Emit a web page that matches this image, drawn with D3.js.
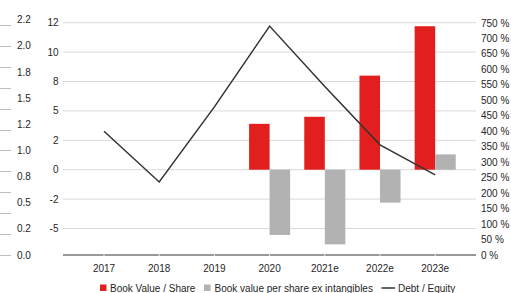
<!DOCTYPE html>
<html><head><meta charset="utf-8">
<script src="https://cdn.jsdelivr.net/npm/d3@7"></script>
<style>body{margin:0;background:#fff}svg{display:block;font-family:"Liberation Sans",Arial,sans-serif}</style>
</head><body><svg id="c" width="511" height="293"></svg>
<script>
const categories = ["2017","2018","2019","2020","2021e","2022e","2023e"];
const bookValue = [null,null,null,3.9,4.5,8.0,12.2];
const bookValueExIntangibles = [null,null,null,-5.55,-6.35,-2.8,1.3];
const debtEquity = [400,236,479,740,545,356,259];
const farLeftTicks = [0,0.2,0.4,0.6,0.8,1.0,1.2,1.4,1.6,1.8,2.0,2.2];
const farLeftLabelValues = [0,0.25,0.5,0.75,1.0,1.25,1.5,1.75,2.0,2.25];
const farLeftLabels = ["0.0","0.2","0.5","0.8","1.0","1.2","1.5","1.8","2.0","2.2"];
const secTickValues = [12.5,10,7.5,5,2.5,0,-2.5,-5];
const secTickLabels = ["12","10","8","5","2","0","-2","-5"];
const rightTicks = d3.range(0,751,50);
const legendItems = ["Book Value / Share","Book value per share ex intangibles","Debt / Equity"];

const svg = d3.select("#c");
const plotL = 63, plotR = 476, axisY = 255;
const x = d3.scaleBand().domain(categories).range([76.4,462.8]).padding(0);
const y1 = d3.scaleLinear().domain([0,2.2]).range([255,25]);
const y2 = d3.scaleLinear().domain([-7.5,12.5]).range([257.9,22.7]);
const y3 = d3.scaleLinear().domain([0,750]).range([255,23]);
const txt = "#262626";

// gridlines
svg.append("g").selectAll("line").data(secTickValues).join("line")
  .attr("x1",plotL).attr("x2",plotR).attr("y1",d=>y2(d)).attr("y2",d=>y2(d))
  .attr("stroke","#d9d9d9").attr("stroke-width",1);

// far-left axis
svg.append("g").selectAll("line").data(farLeftTicks).join("line")
  .attr("x1",0).attr("x2",11).attr("y1",d=>Math.round(y1(d))+0.5).attr("y2",d=>Math.round(y1(d))+0.5)
  .attr("stroke","#bfbfbf");
svg.append("g").selectAll("text").data(farLeftLabelValues).join("text")
  .attr("x",17).attr("y",d=>y1(d)).attr("dy","0.35em").attr("font-size",10).attr("fill",txt)
  .text((d,i)=>farLeftLabels[i]);

// secondary left axis labels
svg.append("g").selectAll("text").data(secTickValues).join("text")
  .attr("x",58.5).attr("y",d=>y2(d)).attr("dy","0.35em").attr("text-anchor","end")
  .attr("font-size",10).attr("fill",txt).text((d,i)=>secTickLabels[i]);

// right axis labels
svg.append("g").selectAll("text").data(rightTicks).join("text")
  .attr("x",481).attr("y",d=>y3(d)).attr("dy","0.35em")
  .attr("font-size",10).attr("fill",txt).text(d=>d+" %");

// bars
const bw = x.bandwidth()*0.372;
const cx = c => x(c)+x.bandwidth()/2;
svg.append("g").selectAll("rect").data(categories.map((c,i)=>({c,v:bookValue[i]})).filter(d=>d.v!=null)).join("rect")
  .attr("x",d=>cx(d.c)-bw).attr("width",bw)
  .attr("y",d=>Math.min(y2(d.v),y2(0))).attr("height",d=>Math.abs(y2(d.v)-y2(0)))
  .attr("fill","#e31e1f");
svg.append("g").selectAll("rect").data(categories.map((c,i)=>({c,v:bookValueExIntangibles[i]})).filter(d=>d.v!=null)).join("rect")
  .attr("x",d=>cx(d.c)).attr("width",bw)
  .attr("y",d=>Math.min(y2(d.v),y2(0))).attr("height",d=>Math.abs(y2(d.v)-y2(0)))
  .attr("fill","#b2b2b2");

// x axis line
svg.append("line").attr("x1",plotL).attr("x2",plotR).attr("y1",axisY).attr("y2",axisY)
  .attr("stroke","#333").attr("stroke-width",1.2);
svg.append("g").selectAll("line").data(categories).join("line")
  .attr("x1",d=>cx(d)).attr("x2",d=>cx(d)).attr("y1",axisY-1).attr("y2",axisY+1)
  .attr("stroke","#fff").attr("stroke-width",0.8);
svg.append("g").selectAll("text").data(categories).join("text")
  .attr("x",d=>cx(d)).attr("y",268).attr("dy","0.35em").attr("text-anchor","middle")
  .attr("font-size",10).attr("fill",txt).text(d=>d);

// line
const line = d3.line().x((d,i)=>cx(categories[i])).y(d=>y3(d));
svg.append("path").datum(debtEquity).attr("d",line).attr("fill","none")
  .attr("stroke","#333").attr("stroke-width",1.5);

// legend
const lg = svg.append("g").attr("font-size",10).attr("fill",txt);
lg.append("rect").attr("x",100).attr("y",284.5).attr("width",6.5).attr("height",6.5).attr("fill","#e31e1f");
lg.append("text").attr("x",110).attr("y",288).attr("dy","0.35em").text(legendItems[0]);
lg.append("rect").attr("x",204).attr("y",284.5).attr("width",6.5).attr("height",6.5).attr("fill","#b2b2b2");
lg.append("text").attr("x",214.5).attr("y",288).attr("dy","0.35em").text(legendItems[1]);
lg.append("line").attr("x1",381.5).attr("x2",395).attr("y1",288).attr("y2",288).attr("stroke","#333").attr("stroke-width",1.5);
lg.append("text").attr("x",398).attr("y",288).attr("dy","0.35em").text(legendItems[2]);
</script></body></html>
